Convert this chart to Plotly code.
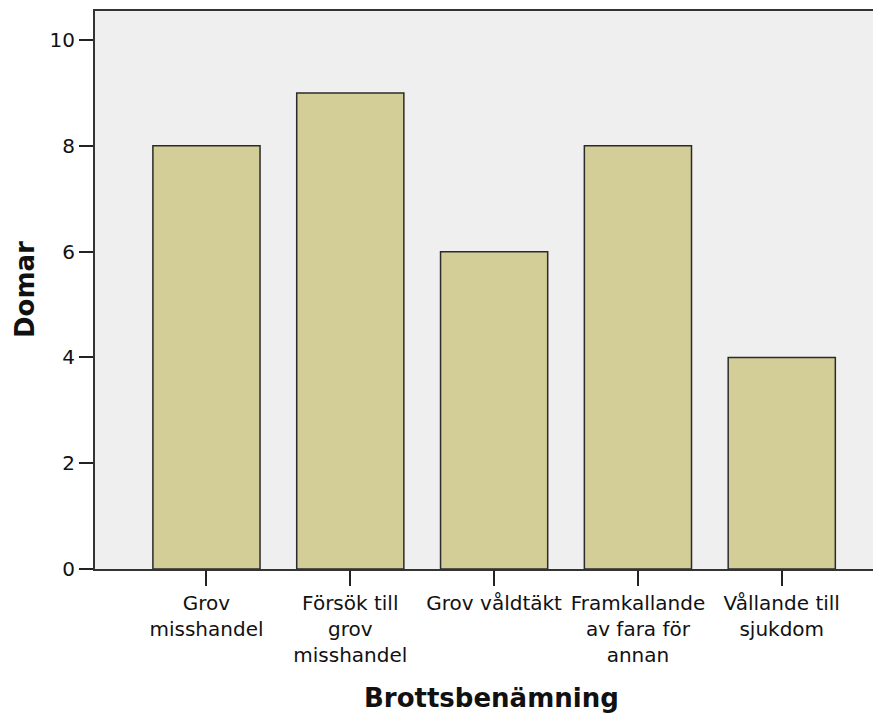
import plotly.graph_objects as go

categories = ["Grov<br>misshandel", "Försök till<br>grov<br>misshandel", "Grov våldtäkt",
              "Framkallande<br>av fara för<br>annan", "Vållande till<br>sjukdom"]
domar = [8, 9, 6, 8, 4]
y_ticks = [0, 2, 4, 6, 8, 10]
x_title = "Brottsbenämning"
y_title = "Domar"

fig = go.Figure(go.Bar(
    x=list(range(len(categories))), y=domar,
    marker=dict(color="#D3CE98", line=dict(color="#2b2b2b", width=1.5)),
    width=0.745,
))

# the page body adds an 8px offset; margins compensate
fig.update_layout(
    width=881, height=718,
    margin=dict(l=87, r=8, t=3, b=157, autoexpand=False),
    paper_bgcolor="white", plot_bgcolor="#EFEFEF",
    font=dict(family="DejaVu Sans", size=20, color="#111"),
    showlegend=False,
    annotations=[
        dict(text=f"<b>{x_title}</b>", xref="paper", yref="paper", x=0.505, y=0,
             yshift=-129, xanchor="center", yanchor="middle", showarrow=False,
             font=dict(family="DejaVu Sans", size=26, color="#111")),
        dict(text=f"<b>{y_title}</b>", xref="paper", yref="paper", x=0, y=0.5,
             xshift=-70, xanchor="center", yanchor="middle", textangle=-90, showarrow=False,
             font=dict(family="DejaVu Sans", size=26, color="#111")),
    ],
)
fig.update_xaxes(
    range=[-0.775, 4.69], tickmode="array", tickvals=list(range(len(categories))),
    ticktext=categories, tickangle=0, ticks="outside", ticklen=15, tickwidth=2,
    tickcolor="#222", showline=True, linecolor="#333", linewidth=2, mirror=True,
    showgrid=False, zeroline=False, automargin=False,
    tickfont=dict(family="DejaVu Sans", size=20, color="#111"),
)
fig.update_yaxes(
    range=[0, 10.55], tickmode="array", tickvals=y_ticks, ticks="outside", ticklen=14,
    tickwidth=2, tickcolor="#222", showline=True, linecolor="#333", linewidth=2,
    showgrid=False, zeroline=False, automargin=False,
    tickfont=dict(family="DejaVu Sans", size=20, color="#111"),
)

fig.write_html("out.html")
